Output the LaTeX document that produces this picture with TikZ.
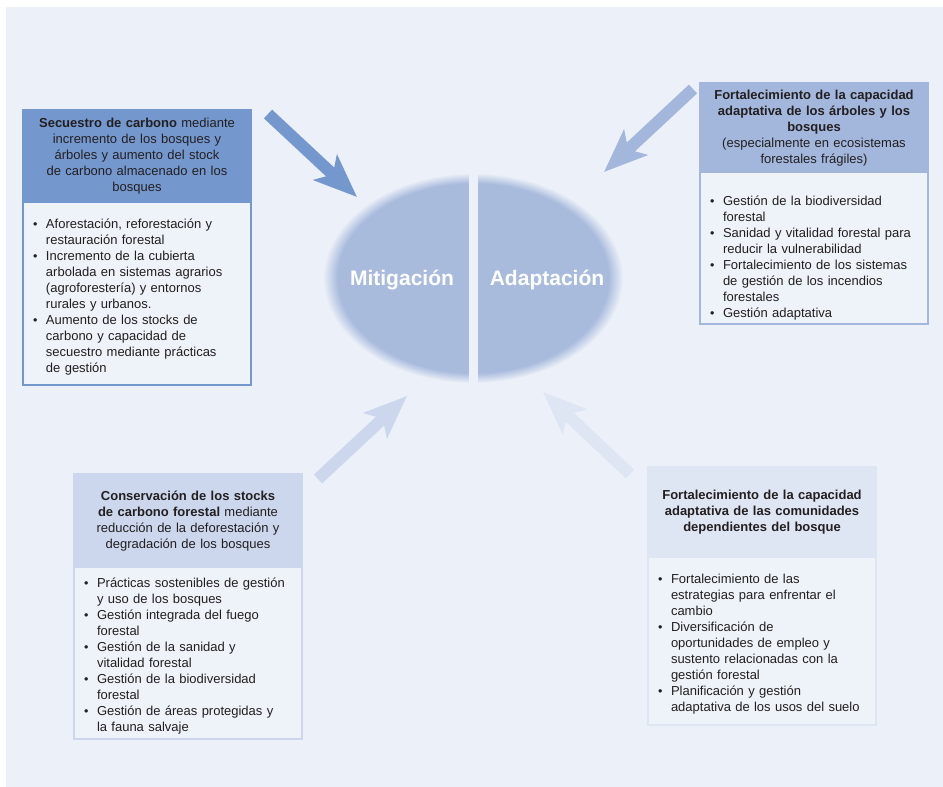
\documentclass[tikz,border=0pt]{standalone}
\usepackage{fontspec}
\setmainfont{Liberation Sans}
\usetikzlibrary{arrows.meta, positioning, shapes.geometric}

\definecolor{panelbg}{HTML}{ECF0F8}
\definecolor{boxfill}{HTML}{EEF2F9}
\definecolor{inktext}{HTML}{231F20}
\definecolor{mitblue}{HTML}{7498CE}
\definecolor{adablue}{HTML}{A3B7DD}
\definecolor{conblue}{HTML}{CCD7EE}
\definecolor{comblue}{HTML}{DFE6F3}
\definecolor{ovalblue}{HTML}{A9BBDD}

\pgfdeclareradialshading{fuzzyoval}{\pgfpoint{0bp}{0bp}}{color(0bp)=(ovalblue); color(22.6bp)=(ovalblue); color(25bp)=(panelbg); color(50bp)=(panelbg)}

\newcommand{\bul}[1]{\par\hangindent=13pt\hangafter=1\noindent\makebox[13pt][l]{\fontsize{12.5}{12}\selectfont\textbullet}#1\par}

\begin{document}
\begin{tikzpicture}[x=1pt, y=-1pt, text=inktext, font=\fontsize{13}{16}\selectfont,
    head/.style={draw=#1, fill=#1, line width=1.5pt, outer sep=0pt, inner xsep=10pt, text width=208pt, align=center, anchor=north west},
    body/.style={draw=#1, fill=boxfill, line width=1.5pt, outer sep=0pt, inner xsep=10pt, text width=208pt, align=left},
    bigarrow/.style={draw=#1, line width=12pt, -{Stealth[length=43pt, width=34pt, inset=10pt]}},
    corelabel/.style={text=white, font=\fontsize{21}{24}\selectfont\bfseries}]
    % background panel
    \fill[white] (0,0) rectangle (943,787);
    \fill[panelbg] (6,7) rectangle (943,787);

    % central oval
    \node[ellipse, shading=fuzzyoval, minimum width=300pt, minimum height=210pt, inner sep=0pt] (core) at (473,278) {};
    \fill[panelbg] ([xshift=-4.5pt]core.north) rectangle ([xshift=4.5pt]core.south);
    \node[corelabel] (mit) at ([xshift=-71pt, yshift=-2pt]core.center) {Mitigación};
    \node[corelabel] (ada) at ([xshift=74pt, yshift=-2pt]core.center) {Adaptación};

    % secuestro
    \node[head=mitblue, minimum height=92.5pt] (hdsec) at (23,110) {\textbf{Secuestro de carbono} mediante\\incremento de los bosques y\\árboles y aumento del stock\\de carbono almacenado en los\\bosques};
    \node[body=mitblue, minimum height=182.5pt, below=0pt of hdsec] (bdsec) {%
        \bul{Aforestación, reforestación y\newline restauración forestal}
        \bul{Incremento de la cubierta\newline arbolada en sistemas agrarios\newline (agroforestería) y entornos\newline rurales y urbanos.}
        \bul{Aumento de los stocks de\newline carbono y capacidad de\newline secuestro mediante prácticas\newline de gestión}};

    % fortalecimiento arboles
    \node[head=adablue, minimum height=89.5pt] (hdarb) at (700,83) {\textbf{Fortalecimiento de la capacidad}\\\textbf{adaptativa de los árboles y los}\\\textbf{bosques}\\(especialmente en ecosistemas\\forestales frágiles)};
    \node[body=adablue, minimum height=148.5pt, below=0pt of hdarb] (bdarb) {%
        \vspace*{14pt}
        \bul{Gestión de la biodiversidad\newline forestal}
        \bul{Sanidad y vitalidad forestal para\newline reducir la vulnerabilidad}
        \bul{Fortalecimiento de los sistemas\newline de gestión de los incendios\newline forestales}
        \bul{Gestión adaptativa}};

    % conservacion
    \node[head=conblue, minimum height=93.5pt] (hdcon) at (74,474) {\textbf{Conservación de los stocks}\\\textbf{de carbono forestal} mediante\\reducción de la deforestación y\\degradación de los bosques};
    \node[body=conblue, minimum height=171.5pt, below=0pt of hdcon] (bdcon) {%
        \bul{Prácticas sostenibles de gestión\newline y uso de los bosques}
        \bul{Gestión integrada del fuego\newline forestal}
        \bul{Gestión de la sanidad y\newline vitalidad forestal}
        \bul{Gestión de la biodiversidad\newline forestal}
        \bul{Gestión de áreas protegidas y\newline la fauna salvaje}};

    % comunidades
    \node[head=comblue, minimum height=90.5pt] (hdcom) at (648,467) {\textbf{Fortalecimiento de la capacidad}\\\textbf{adaptativa de las comunidades}\\\textbf{dependientes del bosque}};
    \node[body=comblue, minimum height=167.5pt, below=0pt of hdcom] (bdcom) {%
        \bul{Fortalecimiento de las\newline estrategias para enfrentar el\newline cambio}
        \bul{Diversificación de\newline oportunidades de empleo y\newline sustento relacionadas con la\newline gestión forestal}
        \bul{Planificación y gestión\newline adaptativa de los usos del suelo}};

    % arrows into the oval
    \coordinate (secfrom) at (268,114);
    \coordinate (secto) at (357,197);
    \coordinate (arbfrom) at (693,89);
    \coordinate (arbto) at (604,172);
    \coordinate (confrom) at (318,479);
    \coordinate (conto) at (407,396);
    \coordinate (comfrom) at (630,474);
    \coordinate (comto) at (543,392);
    \draw[bigarrow=mitblue] (secfrom) -- (secto);
    \draw[bigarrow=adablue] (arbfrom) -- (arbto);
    \draw[bigarrow=conblue] (confrom) -- (conto);
    \draw[bigarrow=comblue] (comfrom) -- (comto);
\end{tikzpicture}
\end{document}
